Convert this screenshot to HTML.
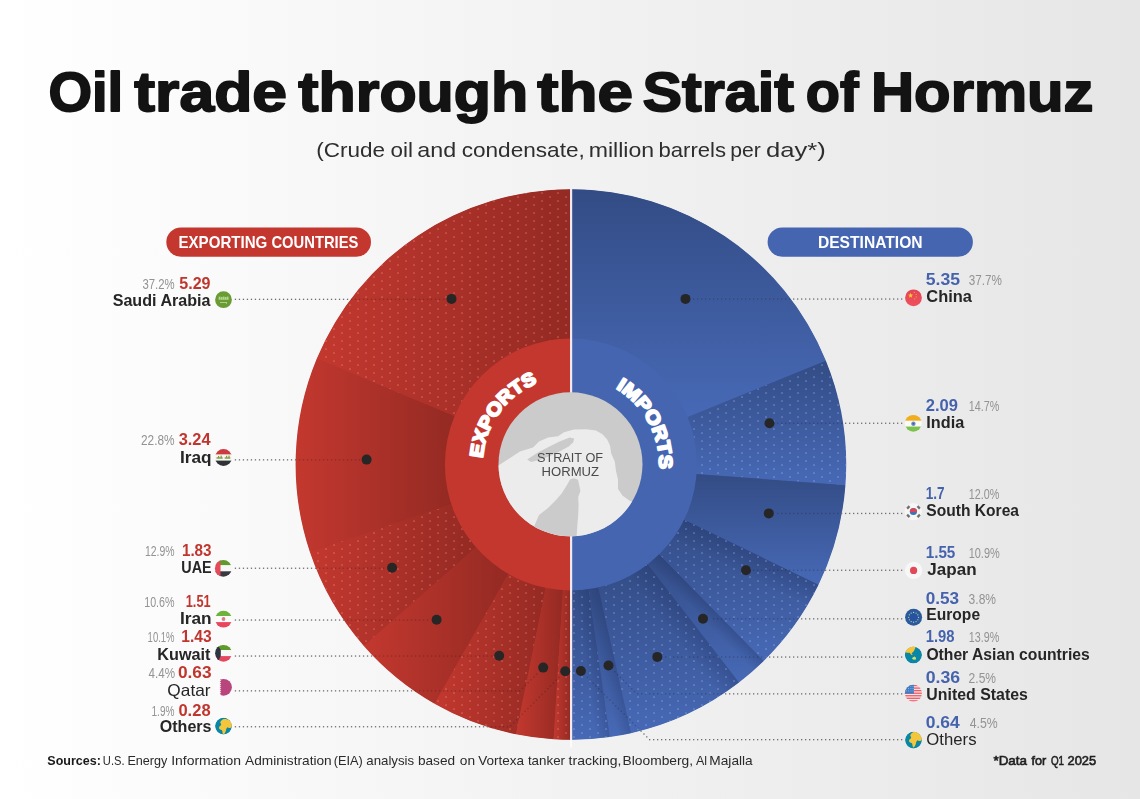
<!DOCTYPE html>
<html><head><meta charset="utf-8"><title>Oil trade through the Strait of Hormuz</title>
<style>
html,body{margin:0;padding:0;background:#f2f2f2;}
body{width:1140px;height:799px;overflow:hidden;font-family:"Liberation Sans",sans-serif;}
svg{display:block;font-family:"Liberation Sans",sans-serif;}
</style></head><body>
<svg width="1140" height="799" viewBox="0 0 1140 799">
<defs>
<linearGradient id="bg" x1="0" y1="0" x2="1" y2="0"><stop offset="0" stop-color="#ffffff"/><stop offset="0.5" stop-color="#f2f2f2"/><stop offset="1" stop-color="#e6e6e6"/></linearGradient>
<pattern id="pr" width="16" height="8" patternUnits="userSpaceOnUse"><rect x="13.2" y="0.3" width="1.6" height="1.5" rx="0.4" fill="#f58c80" fill-opacity="0.5"/><rect x="5.2" y="4.3" width="1.6" height="1.5" rx="0.4" fill="#f58c80" fill-opacity="0.5"/></pattern>
<pattern id="pb" width="16" height="8" patternUnits="userSpaceOnUse"><rect x="13.2" y="0.3" width="1.6" height="1.5" rx="0.4" fill="#9db8f5" fill-opacity="0.5"/><rect x="5.2" y="4.3" width="1.6" height="1.5" rx="0.4" fill="#9db8f5" fill-opacity="0.5"/></pattern>
<linearGradient id="gr0" x1="0" y1="0" x2="1" y2="0"><stop offset="0" stop-color="#c3382f"/><stop offset="1" stop-color="#932a23"/></linearGradient>
<linearGradient id="gr1" x1="0" y1="0" x2="1" y2="0"><stop offset="0" stop-color="#c3382f"/><stop offset="1" stop-color="#932a23"/></linearGradient>
<linearGradient id="gr2" x1="0" y1="0" x2="1" y2="0"><stop offset="0" stop-color="#c3382f"/><stop offset="1" stop-color="#932a23"/></linearGradient>
<linearGradient id="gr3" x1="0" y1="0" x2="1" y2="0"><stop offset="0" stop-color="#c3382f"/><stop offset="1" stop-color="#932a23"/></linearGradient>
<linearGradient id="gr4" x1="0" y1="0" x2="1" y2="0"><stop offset="0" stop-color="#c3382f"/><stop offset="1" stop-color="#932a23"/></linearGradient>
<linearGradient id="gr5" x1="0" y1="0" x2="1" y2="0"><stop offset="0" stop-color="#c3382f"/><stop offset="1" stop-color="#932a23"/></linearGradient>
<linearGradient id="gr6" x1="0" y1="0" x2="1" y2="0"><stop offset="0" stop-color="#c3382f"/><stop offset="1" stop-color="#932a23"/></linearGradient>
<linearGradient id="gbv" x1="0" y1="0" x2="0" y2="1"><stop offset="0" stop-color="#334c85"/><stop offset="1" stop-color="#4769b6"/></linearGradient>
<linearGradient id="gs3" gradientUnits="userSpaceOnUse" x1="570.9" y1="464.5" x2="560.4" y2="486.1"><stop offset="0" stop-color="#1c2c5c" stop-opacity="0.26"/><stop offset="1" stop-color="#1c2c5c" stop-opacity="0"/></linearGradient>
<linearGradient id="gs4" gradientUnits="userSpaceOnUse" x1="570.9" y1="464.5" x2="560.9" y2="474.3"><stop offset="0" stop-color="#1c2c5c" stop-opacity="0.26"/><stop offset="1" stop-color="#1c2c5c" stop-opacity="0"/></linearGradient>
<linearGradient id="gs5" gradientUnits="userSpaceOnUse" x1="570.9" y1="464.5" x2="551.9" y2="479.2"><stop offset="0" stop-color="#1c2c5c" stop-opacity="0.26"/><stop offset="1" stop-color="#1c2c5c" stop-opacity="0"/></linearGradient>
<linearGradient id="gs6" gradientUnits="userSpaceOnUse" x1="570.9" y1="464.5" x2="557.2" y2="467.6"><stop offset="0" stop-color="#1c2c5c" stop-opacity="0.26"/><stop offset="1" stop-color="#1c2c5c" stop-opacity="0"/></linearGradient>
<linearGradient id="gs7" gradientUnits="userSpaceOnUse" x1="570.9" y1="464.5" x2="557.0" y2="466.5"><stop offset="0" stop-color="#1c2c5c" stop-opacity="0.26"/><stop offset="1" stop-color="#1c2c5c" stop-opacity="0"/></linearGradient>
<filter id="nf" color-interpolation-filters="sRGB" filterUnits="userSpaceOnUse" x="0" y="0" width="1140" height="799"><feOffset dx="0" dy="0"/></filter>
<clipPath id="f1"><circle cx="223.5" cy="299.7" r="8.4"/></clipPath>
<clipPath id="f2"><circle cx="223.5" cy="457.5" r="8.4"/></clipPath>
<clipPath id="f3"><circle cx="223.3" cy="568.4" r="8.4"/></clipPath>
<clipPath id="f4"><circle cx="223.5" cy="619.2" r="8.4"/></clipPath>
<clipPath id="f5"><circle cx="223.5" cy="653.3" r="8.4"/></clipPath>
<clipPath id="f6"><circle cx="223.5" cy="687.3" r="8.4"/></clipPath>
<clipPath id="f7"><circle cx="223.5" cy="726.1" r="8.4"/></clipPath>
<clipPath id="f8"><circle cx="913.5" cy="740.1" r="8.4"/></clipPath>
<linearGradient id="gch" x1="0" y1="0" x2="0" y2="1"><stop offset="0" stop-color="#e24652"/><stop offset="1" stop-color="#f0505e"/></linearGradient>
<clipPath id="f9"><circle cx="913.3" cy="423.3" r="8.4"/></clipPath>
<clipPath id="f10"><circle cx="913.3" cy="511.7" r="8.6"/></clipPath>
<clipPath id="f11"><circle cx="913.4" cy="655.0" r="8.6"/></clipPath>
<clipPath id="f12"><circle cx="913.4" cy="693.2" r="8.5"/></clipPath>
</defs>
<rect x="0" y="0" width="1140" height="799" fill="url(#bg)"/>
<path d="M570.90,464.50L570.90,189.60A274.90000000000003,274.90000000000003 0 0 0 570.90,739.40Z" fill="#b0322a"/><path d="M570.90,464.50L570.90,189.60A274.90000000000003,274.90000000000003 0 0 1 570.90,739.40Z" fill="#3f5ca2"/>
<g id="wedges"><path d="M570.90,189.20A275.3,275.3 0 0 0 316.72,358.75L455.49,416.48A125.0,125.0 0 0 1 570.90,339.50Z" fill="url(#gr0)"/><path d="M570.90,189.20A275.3,275.3 0 0 0 316.72,358.75L455.49,416.48A125.0,125.0 0 0 1 570.90,339.50Z" fill="url(#pr)"/><path d="M316.72,358.75A275.3,275.3 0 0 0 309.89,552.04L452.39,504.25A125.0,125.0 0 0 1 455.49,416.48Z" fill="url(#gr1)"/><path d="M309.89,552.04A275.3,275.3 0 0 0 363.82,645.91L476.88,546.87A125.0,125.0 0 0 1 452.39,504.25Z" fill="url(#gr2)"/><path d="M309.89,552.04A275.3,275.3 0 0 0 363.82,645.91L476.88,546.87A125.0,125.0 0 0 1 452.39,504.25Z" fill="url(#pr)"/><path d="M363.82,645.91A275.3,275.3 0 0 0 434.50,703.63L508.97,573.08A125.0,125.0 0 0 1 476.88,546.87Z" fill="url(#gr3)"/><path d="M434.50,703.63A275.3,275.3 0 0 0 515.92,734.25L545.94,586.98A125.0,125.0 0 0 1 508.97,573.08Z" fill="url(#gr4)"/><path d="M434.50,703.63A275.3,275.3 0 0 0 515.92,734.25L545.94,586.98A125.0,125.0 0 0 1 508.97,573.08Z" fill="url(#pr)"/><path d="M515.92,734.25A275.3,275.3 0 0 0 553.61,739.26L563.05,589.25A125.0,125.0 0 0 1 545.94,586.98Z" fill="url(#gr5)"/><path d="M553.61,739.26A275.3,275.3 0 0 0 570.90,739.80L570.90,589.50A125.0,125.0 0 0 1 563.05,589.25Z" fill="url(#gr6)"/><path d="M553.61,739.26A275.3,275.3 0 0 0 570.90,739.80L570.90,589.50A125.0,125.0 0 0 1 563.05,589.25Z" fill="url(#pr)"/><path d="M570.90,189.20A275.3,275.3 0 0 1 825.90,360.75L686.68,417.39A125.0,125.0 0 0 0 570.90,339.50Z" fill="url(#gbv)"/><path d="M825.90,360.75A275.3,275.3 0 0 1 845.42,485.24L695.54,473.92A125.0,125.0 0 0 0 686.68,417.39Z" fill="url(#gbv)"/><path d="M825.90,360.75A275.3,275.3 0 0 1 845.42,485.24L695.54,473.92A125.0,125.0 0 0 0 686.68,417.39Z" fill="url(#pb)"/><path d="M845.42,485.24A275.3,275.3 0 0 1 818.51,584.84L683.33,519.14A125.0,125.0 0 0 0 695.54,473.92Z" fill="url(#gbv)"/><path d="M818.51,584.84A275.3,275.3 0 0 1 763.72,660.99L658.45,553.72A125.0,125.0 0 0 0 683.33,519.14Z" fill="url(#gbv)"/><path d="M818.51,584.84A275.3,275.3 0 0 1 763.72,660.99L658.45,553.72A125.0,125.0 0 0 0 683.33,519.14Z" fill="url(#gs3)"/><path d="M818.51,584.84A275.3,275.3 0 0 1 763.72,660.99L658.45,553.72A125.0,125.0 0 0 0 683.33,519.14Z" fill="url(#pb)"/><path d="M763.72,660.99A275.3,275.3 0 0 1 738.95,682.56L647.20,563.51A125.0,125.0 0 0 0 658.45,553.72Z" fill="url(#gbv)"/><path d="M763.72,660.99A275.3,275.3 0 0 1 738.95,682.56L647.20,563.51A125.0,125.0 0 0 0 658.45,553.72Z" fill="url(#gs4)"/><path d="M738.95,682.56A275.3,275.3 0 0 1 630.95,733.17L598.17,586.49A125.0,125.0 0 0 0 647.20,563.51Z" fill="url(#gbv)"/><path d="M738.95,682.56A275.3,275.3 0 0 1 630.95,733.17L598.17,586.49A125.0,125.0 0 0 0 647.20,563.51Z" fill="url(#gs5)"/><path d="M738.95,682.56A275.3,275.3 0 0 1 630.95,733.17L598.17,586.49A125.0,125.0 0 0 0 647.20,563.51Z" fill="url(#pb)"/><path d="M630.95,733.17A275.3,275.3 0 0 1 609.69,737.05L588.51,588.25A125.0,125.0 0 0 0 598.17,586.49Z" fill="url(#gbv)"/><path d="M630.95,733.17A275.3,275.3 0 0 1 609.69,737.05L588.51,588.25A125.0,125.0 0 0 0 598.17,586.49Z" fill="url(#gs6)"/><path d="M609.69,737.05A275.3,275.3 0 0 1 570.90,739.80L570.90,589.50A125.0,125.0 0 0 0 588.51,588.25Z" fill="url(#gbv)"/><path d="M609.69,737.05A275.3,275.3 0 0 1 570.90,739.80L570.90,589.50A125.0,125.0 0 0 0 588.51,588.25Z" fill="url(#gs7)"/><path d="M609.69,737.05A275.3,275.3 0 0 1 570.90,739.80L570.90,589.50A125.0,125.0 0 0 0 588.51,588.25Z" fill="url(#pb)"/></g>
<path d="M570.90,464.50L570.90,338.50A126.0,126.0 0 0 0 570.90,590.50Z" fill="#c4372f"/>
<path d="M570.90,464.50L570.90,338.50A126.0,126.0 0 0 1 570.90,590.50Z" fill="#4565b1"/>
<rect x="570" y="189" width="2.2" height="551" fill="#f3e9ef"/><rect x="570" y="740" width="2.2" height="7.5" fill="#fbfbfb"/>
<clipPath id="cc"><circle cx="570.5" cy="464.3" r="72"/></clipPath>
<circle cx="570.5" cy="464.3" r="72" fill="#cbcbcb"/>
<g clip-path="url(#cc)">
<polygon points="496.0,467.0 510.0,458.0 520.0,451.4 533.0,447.4 539.0,441.4 548.0,437.6 558.0,436.2 564.0,432.2 574.0,429.6 586.0,429.2 596.0,430.6 602.4,434.2 607.2,439.4 610.0,445.4 611.2,453.4 614.8,461.4 616.0,471.0 618.0,479.4 618.0,489.0 622.4,495.4 630.0,501.0 642.0,503.0 648.0,525.0 570.0,543.0 494.0,525.0" fill="#ececec"/>
<polygon points="533.0,529.0 539.0,515.0 548.0,508.0 556.0,500.0 562.0,493.0 567.0,485.0 570.0,479.4 574.0,478.2 578.0,479.8 579.2,485.0 580.4,491.0 578.2,497.0 578.6,505.0 578.2,515.0 577.4,525.0 576.4,539.0 550.0,541.0" fill="#cbcbcb"/>
<polygon points="527.2,459.4 537.0,453.0 548.0,447.2 559.0,441.8 569.6,437.6 574.2,438.6 573.2,442.2 569.0,446.2 561.0,450.8 551.0,455.6 541.0,459.6 531.0,462.0" fill="#cbcbcb"/>
</g>
<g filter="url(#nf)">
<text x="536.98" y="462" font-size="13" fill="#4a4a4a" textLength="66.04" lengthAdjust="spacingAndGlyphs">STRAIT OF</text>
<text x="541.56" y="475.6" font-size="13" fill="#4a4a4a" textLength="57.49" lengthAdjust="spacingAndGlyphs">HORMUZ</text>
</g>
<path id="pe" d="M482.82,458.34A88.3,88.3 0 0 1 537.39,382.80" fill="none"/>
<path id="pi" d="M615.72,388.42A88.3,88.3 0 0 1 659.08,469.12" fill="none"/>
<text font-size="18.6" font-weight="bold" fill="#fff" stroke="#fff" stroke-width="1.9" stroke-linejoin="round" textLength="98.2" lengthAdjust="spacingAndGlyphs"><textPath href="#pe" textLength="98.2" lengthAdjust="spacingAndGlyphs">EXPORTS</textPath></text>
<text font-size="18.6" font-weight="bold" fill="#fff" stroke="#fff" stroke-width="1.9" stroke-linejoin="round" textLength="96.3" lengthAdjust="spacingAndGlyphs"><textPath href="#pi" textLength="96.3" lengthAdjust="spacingAndGlyphs">IMPORTS</textPath></text>
<g fill="#6e6e6e"><rect x="234.8" y="298.7" width="1.3" height="1.3"/><rect x="238.8" y="298.7" width="1.3" height="1.3"/><rect x="242.8" y="298.7" width="1.3" height="1.3"/><rect x="246.8" y="298.7" width="1.3" height="1.3"/><rect x="250.8" y="298.7" width="1.3" height="1.3"/><rect x="254.8" y="298.7" width="1.3" height="1.3"/><rect x="258.9" y="298.7" width="1.3" height="1.3"/><rect x="262.9" y="298.7" width="1.3" height="1.3"/><rect x="266.9" y="298.7" width="1.3" height="1.3"/><rect x="270.9" y="298.7" width="1.3" height="1.3"/><rect x="274.9" y="298.7" width="1.3" height="1.3"/><rect x="278.9" y="298.7" width="1.3" height="1.3"/><rect x="282.9" y="298.7" width="1.3" height="1.3"/><rect x="286.9" y="298.7" width="1.3" height="1.3"/><rect x="290.9" y="298.7" width="1.3" height="1.3"/><rect x="294.9" y="298.7" width="1.3" height="1.3"/><rect x="298.9" y="298.7" width="1.3" height="1.3"/><rect x="302.9" y="298.7" width="1.3" height="1.3"/><rect x="306.9" y="298.7" width="1.3" height="1.3"/><rect x="310.9" y="298.7" width="1.3" height="1.3"/><rect x="314.9" y="298.7" width="1.3" height="1.3"/><rect x="318.9" y="298.7" width="1.3" height="1.3"/><rect x="322.9" y="298.7" width="1.3" height="1.3"/><rect x="326.9" y="298.7" width="1.3" height="1.3"/><rect x="330.9" y="298.7" width="1.3" height="1.3"/><rect x="334.9" y="298.7" width="1.3" height="1.3"/><rect x="338.9" y="298.7" width="1.3" height="1.3"/><rect x="342.9" y="298.7" width="1.3" height="1.3"/><rect x="346.9" y="298.7" width="1.3" height="1.3"/><rect x="234.8" y="459.2" width="1.3" height="1.3"/><rect x="238.8" y="459.2" width="1.3" height="1.3"/><rect x="242.8" y="459.2" width="1.3" height="1.3"/><rect x="246.8" y="459.2" width="1.3" height="1.3"/><rect x="250.8" y="459.2" width="1.3" height="1.3"/><rect x="254.8" y="459.2" width="1.3" height="1.3"/><rect x="258.9" y="459.2" width="1.3" height="1.3"/><rect x="262.9" y="459.2" width="1.3" height="1.3"/><rect x="266.9" y="459.2" width="1.3" height="1.3"/><rect x="270.9" y="459.2" width="1.3" height="1.3"/><rect x="274.9" y="459.2" width="1.3" height="1.3"/><rect x="278.9" y="459.2" width="1.3" height="1.3"/><rect x="282.9" y="459.2" width="1.3" height="1.3"/><rect x="286.9" y="459.2" width="1.3" height="1.3"/><rect x="290.9" y="459.2" width="1.3" height="1.3"/><rect x="294.9" y="459.2" width="1.3" height="1.3"/><rect x="234.8" y="567.6" width="1.3" height="1.3"/><rect x="238.8" y="567.6" width="1.3" height="1.3"/><rect x="242.8" y="567.6" width="1.3" height="1.3"/><rect x="246.8" y="567.6" width="1.3" height="1.3"/><rect x="250.8" y="567.6" width="1.3" height="1.3"/><rect x="254.8" y="567.6" width="1.3" height="1.3"/><rect x="258.9" y="567.6" width="1.3" height="1.3"/><rect x="262.9" y="567.6" width="1.3" height="1.3"/><rect x="266.9" y="567.6" width="1.3" height="1.3"/><rect x="270.9" y="567.6" width="1.3" height="1.3"/><rect x="274.9" y="567.6" width="1.3" height="1.3"/><rect x="278.9" y="567.6" width="1.3" height="1.3"/><rect x="282.9" y="567.6" width="1.3" height="1.3"/><rect x="286.9" y="567.6" width="1.3" height="1.3"/><rect x="290.9" y="567.6" width="1.3" height="1.3"/><rect x="294.9" y="567.6" width="1.3" height="1.3"/><rect x="298.9" y="567.6" width="1.3" height="1.3"/><rect x="302.9" y="567.6" width="1.3" height="1.3"/><rect x="306.9" y="567.6" width="1.3" height="1.3"/><rect x="310.9" y="567.6" width="1.3" height="1.3"/><rect x="314.9" y="567.6" width="1.3" height="1.3"/><rect x="234.8" y="619.4" width="1.3" height="1.3"/><rect x="238.8" y="619.4" width="1.3" height="1.3"/><rect x="242.8" y="619.4" width="1.3" height="1.3"/><rect x="246.8" y="619.4" width="1.3" height="1.3"/><rect x="250.8" y="619.4" width="1.3" height="1.3"/><rect x="254.8" y="619.4" width="1.3" height="1.3"/><rect x="258.9" y="619.4" width="1.3" height="1.3"/><rect x="262.9" y="619.4" width="1.3" height="1.3"/><rect x="266.9" y="619.4" width="1.3" height="1.3"/><rect x="270.9" y="619.4" width="1.3" height="1.3"/><rect x="274.9" y="619.4" width="1.3" height="1.3"/><rect x="278.9" y="619.4" width="1.3" height="1.3"/><rect x="282.9" y="619.4" width="1.3" height="1.3"/><rect x="286.9" y="619.4" width="1.3" height="1.3"/><rect x="290.9" y="619.4" width="1.3" height="1.3"/><rect x="294.9" y="619.4" width="1.3" height="1.3"/><rect x="298.9" y="619.4" width="1.3" height="1.3"/><rect x="302.9" y="619.4" width="1.3" height="1.3"/><rect x="306.9" y="619.4" width="1.3" height="1.3"/><rect x="310.9" y="619.4" width="1.3" height="1.3"/><rect x="314.9" y="619.4" width="1.3" height="1.3"/><rect x="318.9" y="619.4" width="1.3" height="1.3"/><rect x="322.9" y="619.4" width="1.3" height="1.3"/><rect x="326.9" y="619.4" width="1.3" height="1.3"/><rect x="330.9" y="619.4" width="1.3" height="1.3"/><rect x="334.9" y="619.4" width="1.3" height="1.3"/><rect x="338.9" y="619.4" width="1.3" height="1.3"/><rect x="342.9" y="619.4" width="1.3" height="1.3"/><rect x="234.8" y="655.4" width="1.3" height="1.3"/><rect x="238.8" y="655.4" width="1.3" height="1.3"/><rect x="242.8" y="655.4" width="1.3" height="1.3"/><rect x="246.8" y="655.4" width="1.3" height="1.3"/><rect x="250.8" y="655.4" width="1.3" height="1.3"/><rect x="254.8" y="655.4" width="1.3" height="1.3"/><rect x="258.9" y="655.4" width="1.3" height="1.3"/><rect x="262.9" y="655.4" width="1.3" height="1.3"/><rect x="266.9" y="655.4" width="1.3" height="1.3"/><rect x="270.9" y="655.4" width="1.3" height="1.3"/><rect x="274.9" y="655.4" width="1.3" height="1.3"/><rect x="278.9" y="655.4" width="1.3" height="1.3"/><rect x="282.9" y="655.4" width="1.3" height="1.3"/><rect x="286.9" y="655.4" width="1.3" height="1.3"/><rect x="290.9" y="655.4" width="1.3" height="1.3"/><rect x="294.9" y="655.4" width="1.3" height="1.3"/><rect x="298.9" y="655.4" width="1.3" height="1.3"/><rect x="302.9" y="655.4" width="1.3" height="1.3"/><rect x="306.9" y="655.4" width="1.3" height="1.3"/><rect x="310.9" y="655.4" width="1.3" height="1.3"/><rect x="314.9" y="655.4" width="1.3" height="1.3"/><rect x="318.9" y="655.4" width="1.3" height="1.3"/><rect x="322.9" y="655.4" width="1.3" height="1.3"/><rect x="326.9" y="655.4" width="1.3" height="1.3"/><rect x="330.9" y="655.4" width="1.3" height="1.3"/><rect x="334.9" y="655.4" width="1.3" height="1.3"/><rect x="338.9" y="655.4" width="1.3" height="1.3"/><rect x="342.9" y="655.4" width="1.3" height="1.3"/><rect x="346.9" y="655.4" width="1.3" height="1.3"/><rect x="350.9" y="655.4" width="1.3" height="1.3"/><rect x="354.9" y="655.4" width="1.3" height="1.3"/><rect x="358.9" y="655.4" width="1.3" height="1.3"/><rect x="362.9" y="655.4" width="1.3" height="1.3"/><rect x="366.9" y="655.4" width="1.3" height="1.3"/><rect x="370.9" y="655.4" width="1.3" height="1.3"/><rect x="234.8" y="690.2" width="1.3" height="1.3"/><rect x="238.8" y="690.2" width="1.3" height="1.3"/><rect x="242.8" y="690.2" width="1.3" height="1.3"/><rect x="246.8" y="690.2" width="1.3" height="1.3"/><rect x="250.8" y="690.2" width="1.3" height="1.3"/><rect x="254.8" y="690.2" width="1.3" height="1.3"/><rect x="258.9" y="690.2" width="1.3" height="1.3"/><rect x="262.9" y="690.2" width="1.3" height="1.3"/><rect x="266.9" y="690.2" width="1.3" height="1.3"/><rect x="270.9" y="690.2" width="1.3" height="1.3"/><rect x="274.9" y="690.2" width="1.3" height="1.3"/><rect x="278.9" y="690.2" width="1.3" height="1.3"/><rect x="282.9" y="690.2" width="1.3" height="1.3"/><rect x="286.9" y="690.2" width="1.3" height="1.3"/><rect x="290.9" y="690.2" width="1.3" height="1.3"/><rect x="294.9" y="690.2" width="1.3" height="1.3"/><rect x="298.9" y="690.2" width="1.3" height="1.3"/><rect x="302.9" y="690.2" width="1.3" height="1.3"/><rect x="306.9" y="690.2" width="1.3" height="1.3"/><rect x="310.9" y="690.2" width="1.3" height="1.3"/><rect x="314.9" y="690.2" width="1.3" height="1.3"/><rect x="318.9" y="690.2" width="1.3" height="1.3"/><rect x="322.9" y="690.2" width="1.3" height="1.3"/><rect x="326.9" y="690.2" width="1.3" height="1.3"/><rect x="330.9" y="690.2" width="1.3" height="1.3"/><rect x="334.9" y="690.2" width="1.3" height="1.3"/><rect x="338.9" y="690.2" width="1.3" height="1.3"/><rect x="342.9" y="690.2" width="1.3" height="1.3"/><rect x="346.9" y="690.2" width="1.3" height="1.3"/><rect x="350.9" y="690.2" width="1.3" height="1.3"/><rect x="354.9" y="690.2" width="1.3" height="1.3"/><rect x="358.9" y="690.2" width="1.3" height="1.3"/><rect x="362.9" y="690.2" width="1.3" height="1.3"/><rect x="366.9" y="690.2" width="1.3" height="1.3"/><rect x="370.9" y="690.2" width="1.3" height="1.3"/><rect x="374.9" y="690.2" width="1.3" height="1.3"/><rect x="378.9" y="690.2" width="1.3" height="1.3"/><rect x="382.9" y="690.2" width="1.3" height="1.3"/><rect x="386.9" y="690.2" width="1.3" height="1.3"/><rect x="390.9" y="690.2" width="1.3" height="1.3"/><rect x="394.9" y="690.2" width="1.3" height="1.3"/><rect x="398.9" y="690.2" width="1.3" height="1.3"/><rect x="402.9" y="690.2" width="1.3" height="1.3"/><rect x="406.9" y="690.2" width="1.3" height="1.3"/><rect x="410.9" y="690.2" width="1.3" height="1.3"/><rect x="234.8" y="726.1" width="1.3" height="1.3"/><rect x="238.8" y="726.1" width="1.3" height="1.3"/><rect x="242.8" y="726.1" width="1.3" height="1.3"/><rect x="246.8" y="726.1" width="1.3" height="1.3"/><rect x="250.8" y="726.1" width="1.3" height="1.3"/><rect x="254.8" y="726.1" width="1.3" height="1.3"/><rect x="258.9" y="726.1" width="1.3" height="1.3"/><rect x="262.9" y="726.1" width="1.3" height="1.3"/><rect x="266.9" y="726.1" width="1.3" height="1.3"/><rect x="270.9" y="726.1" width="1.3" height="1.3"/><rect x="274.9" y="726.1" width="1.3" height="1.3"/><rect x="278.9" y="726.1" width="1.3" height="1.3"/><rect x="282.9" y="726.1" width="1.3" height="1.3"/><rect x="286.9" y="726.1" width="1.3" height="1.3"/><rect x="290.9" y="726.1" width="1.3" height="1.3"/><rect x="294.9" y="726.1" width="1.3" height="1.3"/><rect x="298.9" y="726.1" width="1.3" height="1.3"/><rect x="302.9" y="726.1" width="1.3" height="1.3"/><rect x="306.9" y="726.1" width="1.3" height="1.3"/><rect x="310.9" y="726.1" width="1.3" height="1.3"/><rect x="314.9" y="726.1" width="1.3" height="1.3"/><rect x="318.9" y="726.1" width="1.3" height="1.3"/><rect x="322.9" y="726.1" width="1.3" height="1.3"/><rect x="326.9" y="726.1" width="1.3" height="1.3"/><rect x="330.9" y="726.1" width="1.3" height="1.3"/><rect x="334.9" y="726.1" width="1.3" height="1.3"/><rect x="338.9" y="726.1" width="1.3" height="1.3"/><rect x="342.9" y="726.1" width="1.3" height="1.3"/><rect x="346.9" y="726.1" width="1.3" height="1.3"/><rect x="350.9" y="726.1" width="1.3" height="1.3"/><rect x="354.9" y="726.1" width="1.3" height="1.3"/><rect x="358.9" y="726.1" width="1.3" height="1.3"/><rect x="362.9" y="726.1" width="1.3" height="1.3"/><rect x="366.9" y="726.1" width="1.3" height="1.3"/><rect x="370.9" y="726.1" width="1.3" height="1.3"/><rect x="374.9" y="726.1" width="1.3" height="1.3"/><rect x="378.9" y="726.1" width="1.3" height="1.3"/><rect x="382.9" y="726.1" width="1.3" height="1.3"/><rect x="386.9" y="726.1" width="1.3" height="1.3"/><rect x="390.9" y="726.1" width="1.3" height="1.3"/><rect x="394.9" y="726.1" width="1.3" height="1.3"/><rect x="398.9" y="726.1" width="1.3" height="1.3"/><rect x="402.9" y="726.1" width="1.3" height="1.3"/><rect x="406.9" y="726.1" width="1.3" height="1.3"/><rect x="410.9" y="726.1" width="1.3" height="1.3"/><rect x="414.9" y="726.1" width="1.3" height="1.3"/><rect x="418.9" y="726.1" width="1.3" height="1.3"/><rect x="422.9" y="726.1" width="1.3" height="1.3"/><rect x="426.9" y="726.1" width="1.3" height="1.3"/><rect x="430.9" y="726.1" width="1.3" height="1.3"/><rect x="434.9" y="726.1" width="1.3" height="1.3"/><rect x="438.9" y="726.1" width="1.3" height="1.3"/><rect x="442.9" y="726.1" width="1.3" height="1.3"/><rect x="446.9" y="726.1" width="1.3" height="1.3"/><rect x="450.9" y="726.1" width="1.3" height="1.3"/><rect x="454.9" y="726.1" width="1.3" height="1.3"/><rect x="458.9" y="726.1" width="1.3" height="1.3"/><rect x="462.9" y="726.1" width="1.3" height="1.3"/><rect x="466.9" y="726.1" width="1.3" height="1.3"/><rect x="470.9" y="726.1" width="1.3" height="1.3"/><rect x="474.9" y="726.1" width="1.3" height="1.3"/><rect x="478.9" y="726.1" width="1.3" height="1.3"/><rect x="482.9" y="726.1" width="1.3" height="1.3"/><rect x="486.9" y="726.1" width="1.3" height="1.3"/><rect x="901.0" y="298.4" width="1.3" height="1.3"/><rect x="897.0" y="298.4" width="1.3" height="1.3"/><rect x="893.0" y="298.4" width="1.3" height="1.3"/><rect x="889.0" y="298.4" width="1.3" height="1.3"/><rect x="885.0" y="298.4" width="1.3" height="1.3"/><rect x="881.0" y="298.4" width="1.3" height="1.3"/><rect x="877.0" y="298.4" width="1.3" height="1.3"/><rect x="873.0" y="298.4" width="1.3" height="1.3"/><rect x="869.0" y="298.4" width="1.3" height="1.3"/><rect x="865.0" y="298.4" width="1.3" height="1.3"/><rect x="861.0" y="298.4" width="1.3" height="1.3"/><rect x="857.0" y="298.4" width="1.3" height="1.3"/><rect x="853.0" y="298.4" width="1.3" height="1.3"/><rect x="849.0" y="298.4" width="1.3" height="1.3"/><rect x="845.0" y="298.4" width="1.3" height="1.3"/><rect x="841.0" y="298.4" width="1.3" height="1.3"/><rect x="837.0" y="298.4" width="1.3" height="1.3"/><rect x="833.0" y="298.4" width="1.3" height="1.3"/><rect x="829.0" y="298.4" width="1.3" height="1.3"/><rect x="825.0" y="298.4" width="1.3" height="1.3"/><rect x="821.0" y="298.4" width="1.3" height="1.3"/><rect x="817.0" y="298.4" width="1.3" height="1.3"/><rect x="813.0" y="298.4" width="1.3" height="1.3"/><rect x="809.0" y="298.4" width="1.3" height="1.3"/><rect x="805.0" y="298.4" width="1.3" height="1.3"/><rect x="801.0" y="298.4" width="1.3" height="1.3"/><rect x="797.0" y="298.4" width="1.3" height="1.3"/><rect x="793.0" y="298.4" width="1.3" height="1.3"/><rect x="901.0" y="422.6" width="1.3" height="1.3"/><rect x="897.0" y="422.6" width="1.3" height="1.3"/><rect x="893.0" y="422.6" width="1.3" height="1.3"/><rect x="889.0" y="422.6" width="1.3" height="1.3"/><rect x="885.0" y="422.6" width="1.3" height="1.3"/><rect x="881.0" y="422.6" width="1.3" height="1.3"/><rect x="877.0" y="422.6" width="1.3" height="1.3"/><rect x="873.0" y="422.6" width="1.3" height="1.3"/><rect x="869.0" y="422.6" width="1.3" height="1.3"/><rect x="865.0" y="422.6" width="1.3" height="1.3"/><rect x="861.0" y="422.6" width="1.3" height="1.3"/><rect x="857.0" y="422.6" width="1.3" height="1.3"/><rect x="853.0" y="422.6" width="1.3" height="1.3"/><rect x="849.0" y="422.6" width="1.3" height="1.3"/><rect x="845.0" y="422.6" width="1.3" height="1.3"/><rect x="901.0" y="512.8" width="1.3" height="1.3"/><rect x="897.0" y="512.8" width="1.3" height="1.3"/><rect x="893.0" y="512.8" width="1.3" height="1.3"/><rect x="889.0" y="512.8" width="1.3" height="1.3"/><rect x="885.0" y="512.8" width="1.3" height="1.3"/><rect x="881.0" y="512.8" width="1.3" height="1.3"/><rect x="877.0" y="512.8" width="1.3" height="1.3"/><rect x="873.0" y="512.8" width="1.3" height="1.3"/><rect x="869.0" y="512.8" width="1.3" height="1.3"/><rect x="865.0" y="512.8" width="1.3" height="1.3"/><rect x="861.0" y="512.8" width="1.3" height="1.3"/><rect x="857.0" y="512.8" width="1.3" height="1.3"/><rect x="853.0" y="512.8" width="1.3" height="1.3"/><rect x="849.0" y="512.8" width="1.3" height="1.3"/><rect x="845.0" y="512.8" width="1.3" height="1.3"/><rect x="841.0" y="512.8" width="1.3" height="1.3"/><rect x="901.0" y="569.6" width="1.3" height="1.3"/><rect x="897.0" y="569.6" width="1.3" height="1.3"/><rect x="893.0" y="569.6" width="1.3" height="1.3"/><rect x="889.0" y="569.6" width="1.3" height="1.3"/><rect x="885.0" y="569.6" width="1.3" height="1.3"/><rect x="881.0" y="569.6" width="1.3" height="1.3"/><rect x="877.0" y="569.6" width="1.3" height="1.3"/><rect x="873.0" y="569.6" width="1.3" height="1.3"/><rect x="869.0" y="569.6" width="1.3" height="1.3"/><rect x="865.0" y="569.6" width="1.3" height="1.3"/><rect x="861.0" y="569.6" width="1.3" height="1.3"/><rect x="857.0" y="569.6" width="1.3" height="1.3"/><rect x="853.0" y="569.6" width="1.3" height="1.3"/><rect x="849.0" y="569.6" width="1.3" height="1.3"/><rect x="845.0" y="569.6" width="1.3" height="1.3"/><rect x="841.0" y="569.6" width="1.3" height="1.3"/><rect x="837.0" y="569.6" width="1.3" height="1.3"/><rect x="833.0" y="569.6" width="1.3" height="1.3"/><rect x="829.0" y="569.6" width="1.3" height="1.3"/><rect x="825.0" y="569.6" width="1.3" height="1.3"/><rect x="901.0" y="618.2" width="1.3" height="1.3"/><rect x="897.0" y="618.2" width="1.3" height="1.3"/><rect x="893.0" y="618.2" width="1.3" height="1.3"/><rect x="889.0" y="618.2" width="1.3" height="1.3"/><rect x="885.0" y="618.2" width="1.3" height="1.3"/><rect x="881.0" y="618.2" width="1.3" height="1.3"/><rect x="877.0" y="618.2" width="1.3" height="1.3"/><rect x="873.0" y="618.2" width="1.3" height="1.3"/><rect x="869.0" y="618.2" width="1.3" height="1.3"/><rect x="865.0" y="618.2" width="1.3" height="1.3"/><rect x="861.0" y="618.2" width="1.3" height="1.3"/><rect x="857.0" y="618.2" width="1.3" height="1.3"/><rect x="853.0" y="618.2" width="1.3" height="1.3"/><rect x="849.0" y="618.2" width="1.3" height="1.3"/><rect x="845.0" y="618.2" width="1.3" height="1.3"/><rect x="841.0" y="618.2" width="1.3" height="1.3"/><rect x="837.0" y="618.2" width="1.3" height="1.3"/><rect x="833.0" y="618.2" width="1.3" height="1.3"/><rect x="829.0" y="618.2" width="1.3" height="1.3"/><rect x="825.0" y="618.2" width="1.3" height="1.3"/><rect x="821.0" y="618.2" width="1.3" height="1.3"/><rect x="817.0" y="618.2" width="1.3" height="1.3"/><rect x="813.0" y="618.2" width="1.3" height="1.3"/><rect x="809.0" y="618.2" width="1.3" height="1.3"/><rect x="805.0" y="618.2" width="1.3" height="1.3"/><rect x="801.0" y="618.2" width="1.3" height="1.3"/><rect x="901.0" y="656.4" width="1.3" height="1.3"/><rect x="897.0" y="656.4" width="1.3" height="1.3"/><rect x="893.0" y="656.4" width="1.3" height="1.3"/><rect x="889.0" y="656.4" width="1.3" height="1.3"/><rect x="885.0" y="656.4" width="1.3" height="1.3"/><rect x="881.0" y="656.4" width="1.3" height="1.3"/><rect x="877.0" y="656.4" width="1.3" height="1.3"/><rect x="873.0" y="656.4" width="1.3" height="1.3"/><rect x="869.0" y="656.4" width="1.3" height="1.3"/><rect x="865.0" y="656.4" width="1.3" height="1.3"/><rect x="861.0" y="656.4" width="1.3" height="1.3"/><rect x="857.0" y="656.4" width="1.3" height="1.3"/><rect x="853.0" y="656.4" width="1.3" height="1.3"/><rect x="849.0" y="656.4" width="1.3" height="1.3"/><rect x="845.0" y="656.4" width="1.3" height="1.3"/><rect x="841.0" y="656.4" width="1.3" height="1.3"/><rect x="837.0" y="656.4" width="1.3" height="1.3"/><rect x="833.0" y="656.4" width="1.3" height="1.3"/><rect x="829.0" y="656.4" width="1.3" height="1.3"/><rect x="825.0" y="656.4" width="1.3" height="1.3"/><rect x="821.0" y="656.4" width="1.3" height="1.3"/><rect x="817.0" y="656.4" width="1.3" height="1.3"/><rect x="813.0" y="656.4" width="1.3" height="1.3"/><rect x="809.0" y="656.4" width="1.3" height="1.3"/><rect x="805.0" y="656.4" width="1.3" height="1.3"/><rect x="801.0" y="656.4" width="1.3" height="1.3"/><rect x="797.0" y="656.4" width="1.3" height="1.3"/><rect x="793.0" y="656.4" width="1.3" height="1.3"/><rect x="789.0" y="656.4" width="1.3" height="1.3"/><rect x="785.0" y="656.4" width="1.3" height="1.3"/><rect x="781.0" y="656.4" width="1.3" height="1.3"/><rect x="777.0" y="656.4" width="1.3" height="1.3"/><rect x="773.0" y="656.4" width="1.3" height="1.3"/><rect x="769.0" y="656.4" width="1.3" height="1.3"/><rect x="901.0" y="693.2" width="1.3" height="1.3"/><rect x="897.0" y="693.2" width="1.3" height="1.3"/><rect x="893.0" y="693.2" width="1.3" height="1.3"/><rect x="889.0" y="693.2" width="1.3" height="1.3"/><rect x="885.0" y="693.2" width="1.3" height="1.3"/><rect x="881.0" y="693.2" width="1.3" height="1.3"/><rect x="877.0" y="693.2" width="1.3" height="1.3"/><rect x="873.0" y="693.2" width="1.3" height="1.3"/><rect x="869.0" y="693.2" width="1.3" height="1.3"/><rect x="865.0" y="693.2" width="1.3" height="1.3"/><rect x="861.0" y="693.2" width="1.3" height="1.3"/><rect x="857.0" y="693.2" width="1.3" height="1.3"/><rect x="853.0" y="693.2" width="1.3" height="1.3"/><rect x="849.0" y="693.2" width="1.3" height="1.3"/><rect x="845.0" y="693.2" width="1.3" height="1.3"/><rect x="841.0" y="693.2" width="1.3" height="1.3"/><rect x="837.0" y="693.2" width="1.3" height="1.3"/><rect x="833.0" y="693.2" width="1.3" height="1.3"/><rect x="829.0" y="693.2" width="1.3" height="1.3"/><rect x="825.0" y="693.2" width="1.3" height="1.3"/><rect x="821.0" y="693.2" width="1.3" height="1.3"/><rect x="817.0" y="693.2" width="1.3" height="1.3"/><rect x="813.0" y="693.2" width="1.3" height="1.3"/><rect x="809.0" y="693.2" width="1.3" height="1.3"/><rect x="805.0" y="693.2" width="1.3" height="1.3"/><rect x="801.0" y="693.2" width="1.3" height="1.3"/><rect x="797.0" y="693.2" width="1.3" height="1.3"/><rect x="793.0" y="693.2" width="1.3" height="1.3"/><rect x="789.0" y="693.2" width="1.3" height="1.3"/><rect x="785.0" y="693.2" width="1.3" height="1.3"/><rect x="781.0" y="693.2" width="1.3" height="1.3"/><rect x="777.0" y="693.2" width="1.3" height="1.3"/><rect x="773.0" y="693.2" width="1.3" height="1.3"/><rect x="769.0" y="693.2" width="1.3" height="1.3"/><rect x="765.0" y="693.2" width="1.3" height="1.3"/><rect x="761.0" y="693.2" width="1.3" height="1.3"/><rect x="757.0" y="693.2" width="1.3" height="1.3"/><rect x="753.0" y="693.2" width="1.3" height="1.3"/><rect x="749.0" y="693.2" width="1.3" height="1.3"/><rect x="745.0" y="693.2" width="1.3" height="1.3"/><rect x="741.0" y="693.2" width="1.3" height="1.3"/><rect x="737.0" y="693.2" width="1.3" height="1.3"/><rect x="733.0" y="693.2" width="1.3" height="1.3"/><rect x="729.0" y="693.2" width="1.3" height="1.3"/><rect x="725.0" y="693.2" width="1.3" height="1.3"/><rect x="901.0" y="739.0" width="1.3" height="1.3"/><rect x="897.0" y="739.0" width="1.3" height="1.3"/><rect x="893.0" y="739.0" width="1.3" height="1.3"/><rect x="889.0" y="739.0" width="1.3" height="1.3"/><rect x="885.0" y="739.0" width="1.3" height="1.3"/><rect x="881.0" y="739.0" width="1.3" height="1.3"/><rect x="877.0" y="739.0" width="1.3" height="1.3"/><rect x="873.0" y="739.0" width="1.3" height="1.3"/><rect x="869.0" y="739.0" width="1.3" height="1.3"/><rect x="865.0" y="739.0" width="1.3" height="1.3"/><rect x="861.0" y="739.0" width="1.3" height="1.3"/><rect x="857.0" y="739.0" width="1.3" height="1.3"/><rect x="853.0" y="739.0" width="1.3" height="1.3"/><rect x="849.0" y="739.0" width="1.3" height="1.3"/><rect x="845.0" y="739.0" width="1.3" height="1.3"/><rect x="841.0" y="739.0" width="1.3" height="1.3"/><rect x="837.0" y="739.0" width="1.3" height="1.3"/><rect x="833.0" y="739.0" width="1.3" height="1.3"/><rect x="829.0" y="739.0" width="1.3" height="1.3"/><rect x="825.0" y="739.0" width="1.3" height="1.3"/><rect x="821.0" y="739.0" width="1.3" height="1.3"/><rect x="817.0" y="739.0" width="1.3" height="1.3"/><rect x="813.0" y="739.0" width="1.3" height="1.3"/><rect x="809.0" y="739.0" width="1.3" height="1.3"/><rect x="805.0" y="739.0" width="1.3" height="1.3"/><rect x="801.0" y="739.0" width="1.3" height="1.3"/><rect x="797.0" y="739.0" width="1.3" height="1.3"/><rect x="793.0" y="739.0" width="1.3" height="1.3"/><rect x="789.0" y="739.0" width="1.3" height="1.3"/><rect x="785.0" y="739.0" width="1.3" height="1.3"/><rect x="781.0" y="739.0" width="1.3" height="1.3"/><rect x="777.0" y="739.0" width="1.3" height="1.3"/><rect x="773.0" y="739.0" width="1.3" height="1.3"/><rect x="769.0" y="739.0" width="1.3" height="1.3"/><rect x="765.0" y="739.0" width="1.3" height="1.3"/><rect x="761.0" y="739.0" width="1.3" height="1.3"/><rect x="757.0" y="739.0" width="1.3" height="1.3"/><rect x="753.0" y="739.0" width="1.3" height="1.3"/><rect x="749.0" y="739.0" width="1.3" height="1.3"/><rect x="745.0" y="739.0" width="1.3" height="1.3"/><rect x="741.0" y="739.0" width="1.3" height="1.3"/><rect x="737.0" y="739.0" width="1.3" height="1.3"/><rect x="733.0" y="739.0" width="1.3" height="1.3"/><rect x="729.0" y="739.0" width="1.3" height="1.3"/><rect x="725.0" y="739.0" width="1.3" height="1.3"/><rect x="721.0" y="739.0" width="1.3" height="1.3"/><rect x="717.0" y="739.0" width="1.3" height="1.3"/><rect x="713.0" y="739.0" width="1.3" height="1.3"/><rect x="709.0" y="739.0" width="1.3" height="1.3"/><rect x="705.0" y="739.0" width="1.3" height="1.3"/><rect x="701.0" y="739.0" width="1.3" height="1.3"/><rect x="697.0" y="739.0" width="1.3" height="1.3"/><rect x="693.0" y="739.0" width="1.3" height="1.3"/><rect x="689.0" y="739.0" width="1.3" height="1.3"/><rect x="685.0" y="739.0" width="1.3" height="1.3"/><rect x="681.0" y="739.0" width="1.3" height="1.3"/><rect x="677.0" y="739.0" width="1.3" height="1.3"/><rect x="673.0" y="739.0" width="1.3" height="1.3"/><rect x="669.0" y="739.0" width="1.3" height="1.3"/><rect x="665.0" y="739.0" width="1.3" height="1.3"/><rect x="661.0" y="739.0" width="1.3" height="1.3"/><rect x="657.0" y="739.0" width="1.3" height="1.3"/><rect x="653.0" y="739.0" width="1.3" height="1.3"/><rect x="649.0" y="739.0" width="1.3" height="1.3"/><rect x="646.1" y="736.2" width="1.3" height="1.3"/><rect x="643.3" y="733.4" width="1.3" height="1.3"/><rect x="640.4" y="730.5" width="1.3" height="1.3"/></g>
<g fill="#1a1a1a" fill-opacity="0.28"><rect x="350.9" y="298.7" width="1.3" height="1.3"/><rect x="354.9" y="298.7" width="1.3" height="1.3"/><rect x="358.9" y="298.7" width="1.3" height="1.3"/><rect x="362.9" y="298.7" width="1.3" height="1.3"/><rect x="366.9" y="298.7" width="1.3" height="1.3"/><rect x="370.9" y="298.7" width="1.3" height="1.3"/><rect x="374.9" y="298.7" width="1.3" height="1.3"/><rect x="378.9" y="298.7" width="1.3" height="1.3"/><rect x="382.9" y="298.7" width="1.3" height="1.3"/><rect x="386.9" y="298.7" width="1.3" height="1.3"/><rect x="390.9" y="298.7" width="1.3" height="1.3"/><rect x="394.9" y="298.7" width="1.3" height="1.3"/><rect x="398.9" y="298.7" width="1.3" height="1.3"/><rect x="402.9" y="298.7" width="1.3" height="1.3"/><rect x="406.9" y="298.7" width="1.3" height="1.3"/><rect x="410.9" y="298.7" width="1.3" height="1.3"/><rect x="414.9" y="298.7" width="1.3" height="1.3"/><rect x="418.9" y="298.7" width="1.3" height="1.3"/><rect x="422.9" y="298.7" width="1.3" height="1.3"/><rect x="426.9" y="298.7" width="1.3" height="1.3"/><rect x="430.9" y="298.7" width="1.3" height="1.3"/><rect x="434.9" y="298.7" width="1.3" height="1.3"/><rect x="438.9" y="298.7" width="1.3" height="1.3"/><rect x="442.9" y="298.7" width="1.3" height="1.3"/><rect x="298.9" y="459.2" width="1.3" height="1.3"/><rect x="302.9" y="459.2" width="1.3" height="1.3"/><rect x="306.9" y="459.2" width="1.3" height="1.3"/><rect x="310.9" y="459.2" width="1.3" height="1.3"/><rect x="314.9" y="459.2" width="1.3" height="1.3"/><rect x="318.9" y="459.2" width="1.3" height="1.3"/><rect x="322.9" y="459.2" width="1.3" height="1.3"/><rect x="326.9" y="459.2" width="1.3" height="1.3"/><rect x="330.9" y="459.2" width="1.3" height="1.3"/><rect x="334.9" y="459.2" width="1.3" height="1.3"/><rect x="338.9" y="459.2" width="1.3" height="1.3"/><rect x="342.9" y="459.2" width="1.3" height="1.3"/><rect x="346.9" y="459.2" width="1.3" height="1.3"/><rect x="350.9" y="459.2" width="1.3" height="1.3"/><rect x="354.9" y="459.2" width="1.3" height="1.3"/><rect x="358.9" y="459.2" width="1.3" height="1.3"/><rect x="318.9" y="567.6" width="1.3" height="1.3"/><rect x="322.9" y="567.6" width="1.3" height="1.3"/><rect x="326.9" y="567.6" width="1.3" height="1.3"/><rect x="330.9" y="567.6" width="1.3" height="1.3"/><rect x="334.9" y="567.6" width="1.3" height="1.3"/><rect x="338.9" y="567.6" width="1.3" height="1.3"/><rect x="342.9" y="567.6" width="1.3" height="1.3"/><rect x="346.9" y="567.6" width="1.3" height="1.3"/><rect x="350.9" y="567.6" width="1.3" height="1.3"/><rect x="354.9" y="567.6" width="1.3" height="1.3"/><rect x="358.9" y="567.6" width="1.3" height="1.3"/><rect x="362.9" y="567.6" width="1.3" height="1.3"/><rect x="366.9" y="567.6" width="1.3" height="1.3"/><rect x="370.9" y="567.6" width="1.3" height="1.3"/><rect x="374.9" y="567.6" width="1.3" height="1.3"/><rect x="378.9" y="567.6" width="1.3" height="1.3"/><rect x="382.9" y="567.6" width="1.3" height="1.3"/><rect x="346.9" y="619.4" width="1.3" height="1.3"/><rect x="350.9" y="619.4" width="1.3" height="1.3"/><rect x="354.9" y="619.4" width="1.3" height="1.3"/><rect x="358.9" y="619.4" width="1.3" height="1.3"/><rect x="362.9" y="619.4" width="1.3" height="1.3"/><rect x="366.9" y="619.4" width="1.3" height="1.3"/><rect x="370.9" y="619.4" width="1.3" height="1.3"/><rect x="374.9" y="619.4" width="1.3" height="1.3"/><rect x="378.9" y="619.4" width="1.3" height="1.3"/><rect x="382.9" y="619.4" width="1.3" height="1.3"/><rect x="386.9" y="619.4" width="1.3" height="1.3"/><rect x="390.9" y="619.4" width="1.3" height="1.3"/><rect x="394.9" y="619.4" width="1.3" height="1.3"/><rect x="398.9" y="619.4" width="1.3" height="1.3"/><rect x="402.9" y="619.4" width="1.3" height="1.3"/><rect x="406.9" y="619.4" width="1.3" height="1.3"/><rect x="410.9" y="619.4" width="1.3" height="1.3"/><rect x="414.9" y="619.4" width="1.3" height="1.3"/><rect x="418.9" y="619.4" width="1.3" height="1.3"/><rect x="422.9" y="619.4" width="1.3" height="1.3"/><rect x="426.9" y="619.4" width="1.3" height="1.3"/><rect x="374.9" y="655.4" width="1.3" height="1.3"/><rect x="378.9" y="655.4" width="1.3" height="1.3"/><rect x="382.9" y="655.4" width="1.3" height="1.3"/><rect x="386.9" y="655.4" width="1.3" height="1.3"/><rect x="390.9" y="655.4" width="1.3" height="1.3"/><rect x="394.9" y="655.4" width="1.3" height="1.3"/><rect x="398.9" y="655.4" width="1.3" height="1.3"/><rect x="402.9" y="655.4" width="1.3" height="1.3"/><rect x="406.9" y="655.4" width="1.3" height="1.3"/><rect x="410.9" y="655.4" width="1.3" height="1.3"/><rect x="414.9" y="655.4" width="1.3" height="1.3"/><rect x="418.9" y="655.4" width="1.3" height="1.3"/><rect x="422.9" y="655.4" width="1.3" height="1.3"/><rect x="426.9" y="655.4" width="1.3" height="1.3"/><rect x="430.9" y="655.4" width="1.3" height="1.3"/><rect x="434.9" y="655.4" width="1.3" height="1.3"/><rect x="438.9" y="655.4" width="1.3" height="1.3"/><rect x="442.9" y="655.4" width="1.3" height="1.3"/><rect x="446.9" y="655.4" width="1.3" height="1.3"/><rect x="450.9" y="655.4" width="1.3" height="1.3"/><rect x="454.9" y="655.4" width="1.3" height="1.3"/><rect x="458.9" y="655.4" width="1.3" height="1.3"/><rect x="462.9" y="655.4" width="1.3" height="1.3"/><rect x="466.9" y="655.4" width="1.3" height="1.3"/><rect x="470.9" y="655.4" width="1.3" height="1.3"/><rect x="474.9" y="655.4" width="1.3" height="1.3"/><rect x="478.9" y="655.4" width="1.3" height="1.3"/><rect x="482.9" y="655.4" width="1.3" height="1.3"/><rect x="486.9" y="655.4" width="1.3" height="1.3"/><rect x="490.9" y="655.4" width="1.3" height="1.3"/><rect x="414.9" y="690.2" width="1.3" height="1.3"/><rect x="418.9" y="690.2" width="1.3" height="1.3"/><rect x="422.9" y="690.2" width="1.3" height="1.3"/><rect x="426.9" y="690.2" width="1.3" height="1.3"/><rect x="430.9" y="690.2" width="1.3" height="1.3"/><rect x="434.9" y="690.2" width="1.3" height="1.3"/><rect x="438.9" y="690.2" width="1.3" height="1.3"/><rect x="442.9" y="690.2" width="1.3" height="1.3"/><rect x="446.9" y="690.2" width="1.3" height="1.3"/><rect x="450.9" y="690.2" width="1.3" height="1.3"/><rect x="454.9" y="690.2" width="1.3" height="1.3"/><rect x="458.9" y="690.2" width="1.3" height="1.3"/><rect x="462.9" y="690.2" width="1.3" height="1.3"/><rect x="466.9" y="690.2" width="1.3" height="1.3"/><rect x="470.9" y="690.2" width="1.3" height="1.3"/><rect x="474.9" y="690.2" width="1.3" height="1.3"/><rect x="478.9" y="690.2" width="1.3" height="1.3"/><rect x="482.9" y="690.2" width="1.3" height="1.3"/><rect x="486.9" y="690.2" width="1.3" height="1.3"/><rect x="490.9" y="690.2" width="1.3" height="1.3"/><rect x="494.9" y="690.2" width="1.3" height="1.3"/><rect x="498.9" y="690.2" width="1.3" height="1.3"/><rect x="502.9" y="690.2" width="1.3" height="1.3"/><rect x="506.9" y="690.2" width="1.3" height="1.3"/><rect x="510.9" y="690.2" width="1.3" height="1.3"/><rect x="514.9" y="690.2" width="1.3" height="1.3"/><rect x="518.9" y="690.2" width="1.3" height="1.3"/><rect x="521.8" y="687.7" width="1.3" height="1.3"/><rect x="524.6" y="684.9" width="1.3" height="1.3"/><rect x="527.5" y="682.0" width="1.3" height="1.3"/><rect x="530.3" y="679.2" width="1.3" height="1.3"/><rect x="533.1" y="676.4" width="1.3" height="1.3"/><rect x="535.9" y="673.6" width="1.3" height="1.3"/><rect x="490.9" y="726.1" width="1.3" height="1.3"/><rect x="494.9" y="726.1" width="1.3" height="1.3"/><rect x="498.9" y="726.1" width="1.3" height="1.3"/><rect x="502.9" y="726.1" width="1.3" height="1.3"/><rect x="506.9" y="726.1" width="1.3" height="1.3"/><rect x="510.3" y="724.9" width="1.3" height="1.3"/><rect x="513.2" y="722.0" width="1.3" height="1.3"/><rect x="516.0" y="719.2" width="1.3" height="1.3"/><rect x="518.8" y="716.4" width="1.3" height="1.3"/><rect x="521.6" y="713.6" width="1.3" height="1.3"/><rect x="524.5" y="710.7" width="1.3" height="1.3"/><rect x="527.3" y="707.9" width="1.3" height="1.3"/><rect x="530.1" y="705.1" width="1.3" height="1.3"/><rect x="533.0" y="702.2" width="1.3" height="1.3"/><rect x="535.8" y="699.4" width="1.3" height="1.3"/><rect x="538.6" y="696.6" width="1.3" height="1.3"/><rect x="541.4" y="693.8" width="1.3" height="1.3"/><rect x="544.3" y="690.9" width="1.3" height="1.3"/><rect x="547.1" y="688.1" width="1.3" height="1.3"/><rect x="549.9" y="685.3" width="1.3" height="1.3"/><rect x="552.7" y="682.5" width="1.3" height="1.3"/><rect x="555.6" y="679.6" width="1.3" height="1.3"/><rect x="558.4" y="676.8" width="1.3" height="1.3"/><rect x="789.0" y="298.4" width="1.3" height="1.3"/><rect x="785.0" y="298.4" width="1.3" height="1.3"/><rect x="781.0" y="298.4" width="1.3" height="1.3"/><rect x="777.0" y="298.4" width="1.3" height="1.3"/><rect x="773.0" y="298.4" width="1.3" height="1.3"/><rect x="769.0" y="298.4" width="1.3" height="1.3"/><rect x="765.0" y="298.4" width="1.3" height="1.3"/><rect x="761.0" y="298.4" width="1.3" height="1.3"/><rect x="757.0" y="298.4" width="1.3" height="1.3"/><rect x="753.0" y="298.4" width="1.3" height="1.3"/><rect x="749.0" y="298.4" width="1.3" height="1.3"/><rect x="745.0" y="298.4" width="1.3" height="1.3"/><rect x="741.0" y="298.4" width="1.3" height="1.3"/><rect x="737.0" y="298.4" width="1.3" height="1.3"/><rect x="733.0" y="298.4" width="1.3" height="1.3"/><rect x="729.0" y="298.4" width="1.3" height="1.3"/><rect x="725.0" y="298.4" width="1.3" height="1.3"/><rect x="721.0" y="298.4" width="1.3" height="1.3"/><rect x="717.0" y="298.4" width="1.3" height="1.3"/><rect x="713.0" y="298.4" width="1.3" height="1.3"/><rect x="709.0" y="298.4" width="1.3" height="1.3"/><rect x="705.0" y="298.4" width="1.3" height="1.3"/><rect x="701.0" y="298.4" width="1.3" height="1.3"/><rect x="697.0" y="298.4" width="1.3" height="1.3"/><rect x="693.0" y="298.4" width="1.3" height="1.3"/><rect x="841.0" y="422.6" width="1.3" height="1.3"/><rect x="837.0" y="422.6" width="1.3" height="1.3"/><rect x="833.0" y="422.6" width="1.3" height="1.3"/><rect x="829.0" y="422.6" width="1.3" height="1.3"/><rect x="825.0" y="422.6" width="1.3" height="1.3"/><rect x="821.0" y="422.6" width="1.3" height="1.3"/><rect x="817.0" y="422.6" width="1.3" height="1.3"/><rect x="813.0" y="422.6" width="1.3" height="1.3"/><rect x="809.0" y="422.6" width="1.3" height="1.3"/><rect x="805.0" y="422.6" width="1.3" height="1.3"/><rect x="801.0" y="422.6" width="1.3" height="1.3"/><rect x="797.0" y="422.6" width="1.3" height="1.3"/><rect x="793.0" y="422.6" width="1.3" height="1.3"/><rect x="789.0" y="422.6" width="1.3" height="1.3"/><rect x="785.0" y="422.6" width="1.3" height="1.3"/><rect x="781.0" y="422.6" width="1.3" height="1.3"/><rect x="777.0" y="422.6" width="1.3" height="1.3"/><rect x="837.0" y="512.8" width="1.3" height="1.3"/><rect x="833.0" y="512.8" width="1.3" height="1.3"/><rect x="829.0" y="512.8" width="1.3" height="1.3"/><rect x="825.0" y="512.8" width="1.3" height="1.3"/><rect x="821.0" y="512.8" width="1.3" height="1.3"/><rect x="817.0" y="512.8" width="1.3" height="1.3"/><rect x="813.0" y="512.8" width="1.3" height="1.3"/><rect x="809.0" y="512.8" width="1.3" height="1.3"/><rect x="805.0" y="512.8" width="1.3" height="1.3"/><rect x="801.0" y="512.8" width="1.3" height="1.3"/><rect x="797.0" y="512.8" width="1.3" height="1.3"/><rect x="793.0" y="512.8" width="1.3" height="1.3"/><rect x="789.0" y="512.8" width="1.3" height="1.3"/><rect x="785.0" y="512.8" width="1.3" height="1.3"/><rect x="781.0" y="512.8" width="1.3" height="1.3"/><rect x="777.0" y="512.8" width="1.3" height="1.3"/><rect x="821.0" y="569.6" width="1.3" height="1.3"/><rect x="817.0" y="569.6" width="1.3" height="1.3"/><rect x="813.0" y="569.6" width="1.3" height="1.3"/><rect x="809.0" y="569.6" width="1.3" height="1.3"/><rect x="805.0" y="569.6" width="1.3" height="1.3"/><rect x="801.0" y="569.6" width="1.3" height="1.3"/><rect x="797.0" y="569.6" width="1.3" height="1.3"/><rect x="793.0" y="569.6" width="1.3" height="1.3"/><rect x="789.0" y="569.6" width="1.3" height="1.3"/><rect x="785.0" y="569.6" width="1.3" height="1.3"/><rect x="781.0" y="569.6" width="1.3" height="1.3"/><rect x="777.0" y="569.6" width="1.3" height="1.3"/><rect x="773.0" y="569.6" width="1.3" height="1.3"/><rect x="769.0" y="569.6" width="1.3" height="1.3"/><rect x="765.0" y="569.6" width="1.3" height="1.3"/><rect x="761.0" y="569.6" width="1.3" height="1.3"/><rect x="757.0" y="569.6" width="1.3" height="1.3"/><rect x="753.0" y="569.6" width="1.3" height="1.3"/><rect x="797.0" y="618.2" width="1.3" height="1.3"/><rect x="793.0" y="618.2" width="1.3" height="1.3"/><rect x="789.0" y="618.2" width="1.3" height="1.3"/><rect x="785.0" y="618.2" width="1.3" height="1.3"/><rect x="781.0" y="618.2" width="1.3" height="1.3"/><rect x="777.0" y="618.2" width="1.3" height="1.3"/><rect x="773.0" y="618.2" width="1.3" height="1.3"/><rect x="769.0" y="618.2" width="1.3" height="1.3"/><rect x="765.0" y="618.2" width="1.3" height="1.3"/><rect x="761.0" y="618.2" width="1.3" height="1.3"/><rect x="757.0" y="618.2" width="1.3" height="1.3"/><rect x="753.0" y="618.2" width="1.3" height="1.3"/><rect x="749.0" y="618.2" width="1.3" height="1.3"/><rect x="745.0" y="618.2" width="1.3" height="1.3"/><rect x="741.0" y="618.2" width="1.3" height="1.3"/><rect x="737.0" y="618.2" width="1.3" height="1.3"/><rect x="733.0" y="618.2" width="1.3" height="1.3"/><rect x="729.0" y="618.2" width="1.3" height="1.3"/><rect x="725.0" y="618.2" width="1.3" height="1.3"/><rect x="721.0" y="618.2" width="1.3" height="1.3"/><rect x="717.0" y="618.2" width="1.3" height="1.3"/><rect x="713.0" y="618.2" width="1.3" height="1.3"/><rect x="765.0" y="656.4" width="1.3" height="1.3"/><rect x="761.0" y="656.4" width="1.3" height="1.3"/><rect x="757.0" y="656.4" width="1.3" height="1.3"/><rect x="753.0" y="656.4" width="1.3" height="1.3"/><rect x="749.0" y="656.4" width="1.3" height="1.3"/><rect x="745.0" y="656.4" width="1.3" height="1.3"/><rect x="741.0" y="656.4" width="1.3" height="1.3"/><rect x="737.0" y="656.4" width="1.3" height="1.3"/><rect x="733.0" y="656.4" width="1.3" height="1.3"/><rect x="729.0" y="656.4" width="1.3" height="1.3"/><rect x="725.0" y="656.4" width="1.3" height="1.3"/><rect x="721.0" y="656.4" width="1.3" height="1.3"/><rect x="717.0" y="656.4" width="1.3" height="1.3"/><rect x="713.0" y="656.4" width="1.3" height="1.3"/><rect x="709.0" y="656.4" width="1.3" height="1.3"/><rect x="705.0" y="656.4" width="1.3" height="1.3"/><rect x="701.0" y="656.4" width="1.3" height="1.3"/><rect x="697.0" y="656.4" width="1.3" height="1.3"/><rect x="693.0" y="656.4" width="1.3" height="1.3"/><rect x="689.0" y="656.4" width="1.3" height="1.3"/><rect x="685.0" y="656.4" width="1.3" height="1.3"/><rect x="681.0" y="656.4" width="1.3" height="1.3"/><rect x="677.0" y="656.4" width="1.3" height="1.3"/><rect x="673.0" y="656.4" width="1.3" height="1.3"/><rect x="669.0" y="656.4" width="1.3" height="1.3"/><rect x="665.0" y="656.4" width="1.3" height="1.3"/><rect x="721.0" y="693.2" width="1.3" height="1.3"/><rect x="717.0" y="693.2" width="1.3" height="1.3"/><rect x="713.0" y="693.2" width="1.3" height="1.3"/><rect x="709.0" y="693.2" width="1.3" height="1.3"/><rect x="705.0" y="693.2" width="1.3" height="1.3"/><rect x="701.0" y="693.2" width="1.3" height="1.3"/><rect x="697.0" y="693.2" width="1.3" height="1.3"/><rect x="693.0" y="693.2" width="1.3" height="1.3"/><rect x="689.0" y="693.2" width="1.3" height="1.3"/><rect x="685.0" y="693.2" width="1.3" height="1.3"/><rect x="681.0" y="693.2" width="1.3" height="1.3"/><rect x="677.0" y="693.2" width="1.3" height="1.3"/><rect x="673.0" y="693.2" width="1.3" height="1.3"/><rect x="669.0" y="693.2" width="1.3" height="1.3"/><rect x="665.0" y="693.2" width="1.3" height="1.3"/><rect x="661.0" y="693.2" width="1.3" height="1.3"/><rect x="657.0" y="693.2" width="1.3" height="1.3"/><rect x="653.0" y="693.2" width="1.3" height="1.3"/><rect x="649.0" y="693.2" width="1.3" height="1.3"/><rect x="645.0" y="693.2" width="1.3" height="1.3"/><rect x="641.0" y="693.2" width="1.3" height="1.3"/><rect x="637.0" y="693.2" width="1.3" height="1.3"/><rect x="633.9" y="690.9" width="1.3" height="1.3"/><rect x="631.1" y="688.1" width="1.3" height="1.3"/><rect x="628.3" y="685.3" width="1.3" height="1.3"/><rect x="625.4" y="682.4" width="1.3" height="1.3"/><rect x="622.6" y="679.6" width="1.3" height="1.3"/><rect x="619.8" y="676.8" width="1.3" height="1.3"/><rect x="616.9" y="673.9" width="1.3" height="1.3"/><rect x="614.1" y="671.1" width="1.3" height="1.3"/><rect x="637.6" y="727.7" width="1.3" height="1.3"/><rect x="634.8" y="724.9" width="1.3" height="1.3"/><rect x="632.0" y="722.1" width="1.3" height="1.3"/><rect x="629.1" y="719.2" width="1.3" height="1.3"/><rect x="626.3" y="716.4" width="1.3" height="1.3"/><rect x="623.5" y="713.6" width="1.3" height="1.3"/><rect x="620.6" y="710.7" width="1.3" height="1.3"/><rect x="617.8" y="707.9" width="1.3" height="1.3"/><rect x="615.0" y="705.1" width="1.3" height="1.3"/><rect x="612.2" y="702.3" width="1.3" height="1.3"/><rect x="609.3" y="699.4" width="1.3" height="1.3"/><rect x="606.5" y="696.6" width="1.3" height="1.3"/><rect x="603.7" y="693.8" width="1.3" height="1.3"/><rect x="600.8" y="690.9" width="1.3" height="1.3"/><rect x="598.0" y="688.1" width="1.3" height="1.3"/><rect x="595.2" y="685.3" width="1.3" height="1.3"/><rect x="592.4" y="682.5" width="1.3" height="1.3"/><rect x="589.5" y="679.6" width="1.3" height="1.3"/><rect x="586.7" y="676.8" width="1.3" height="1.3"/></g>
<g fill="#262626"><circle cx="451.5" cy="298.9" r="5"/><circle cx="366.6" cy="459.6" r="5"/><circle cx="392.1" cy="567.8" r="5"/><circle cx="436.6" cy="619.8" r="5"/><circle cx="499.2" cy="655.8" r="5"/><circle cx="543.2" cy="667.6" r="5"/><circle cx="565.2" cy="671.3" r="5"/><circle cx="685.5" cy="298.9" r="5"/><circle cx="769.5" cy="423.2" r="5"/><circle cx="768.8" cy="513.4" r="5"/><circle cx="746.0" cy="570.2" r="5"/><circle cx="703.0" cy="618.8" r="5"/><circle cx="657.3" cy="656.9" r="5"/><circle cx="608.5" cy="665.5" r="5"/><circle cx="580.9" cy="671.0" r="5"/></g>
<g filter="url(#nf)"><text x="142.38" y="289.0" font-size="14" fill="#939393" textLength="32.17" lengthAdjust="spacingAndGlyphs">37.2%</text>
<text x="179.22" y="289.0" font-size="16.5" fill="#c0352d" font-weight="bold" textLength="31.35" lengthAdjust="spacingAndGlyphs">5.29</text>
<text x="112.68" y="305.5" font-size="16.5" fill="#262626" font-weight="bold" textLength="97.83" lengthAdjust="spacingAndGlyphs">Saudi Arabia</text>
<text x="140.97" y="445.0" font-size="14" fill="#939393" textLength="33.57" lengthAdjust="spacingAndGlyphs">22.8%</text>
<text x="178.68" y="445.0" font-size="16.5" fill="#c0352d" font-weight="bold" textLength="31.86" lengthAdjust="spacingAndGlyphs">3.24</text>
<text x="179.93" y="462.6" font-size="16.5" fill="#262626" font-weight="bold" textLength="31.66" lengthAdjust="spacingAndGlyphs">Iraq</text>
<text x="144.96" y="556.0" font-size="14" fill="#939393" textLength="29.60" lengthAdjust="spacingAndGlyphs">12.9%</text>
<text x="181.92" y="556.0" font-size="16.5" fill="#c0352d" font-weight="bold" textLength="29.67" lengthAdjust="spacingAndGlyphs">1.83</text>
<text x="181.28" y="572.6" font-size="16.5" fill="#262626" font-weight="bold" textLength="30.35" lengthAdjust="spacingAndGlyphs">UAE</text>
<text x="144.21" y="607.0" font-size="14" fill="#939393" textLength="30.34" lengthAdjust="spacingAndGlyphs">10.6%</text>
<text x="185.75" y="607.0" font-size="16.5" fill="#c0352d" font-weight="bold" textLength="24.82" lengthAdjust="spacingAndGlyphs">1.51</text>
<text x="179.93" y="624.0" font-size="16.5" fill="#262626" font-weight="bold" textLength="31.66" lengthAdjust="spacingAndGlyphs">Iran</text>
<text x="147.62" y="642.4" font-size="14" fill="#939393" textLength="26.96" lengthAdjust="spacingAndGlyphs">10.1%</text>
<text x="181.33" y="642.4" font-size="16.5" fill="#c0352d" font-weight="bold" textLength="30.30" lengthAdjust="spacingAndGlyphs">1.43</text>
<text x="157.33" y="659.5" font-size="16.5" fill="#262626" font-weight="bold" textLength="53.20" lengthAdjust="spacingAndGlyphs">Kuwait</text>
<text x="148.60" y="678.4" font-size="14" fill="#939393" textLength="26.49" lengthAdjust="spacingAndGlyphs">4.4%</text>
<text x="177.95" y="678.4" font-size="16.5" fill="#c0352d" font-weight="bold" textLength="33.61" lengthAdjust="spacingAndGlyphs">0.63</text>
<text x="167.36" y="695.5" font-size="16.5" fill="#262626" textLength="43.18" lengthAdjust="spacingAndGlyphs">Qatar</text>
<text x="151.48" y="715.5" font-size="14" fill="#939393" textLength="23.05" lengthAdjust="spacingAndGlyphs">1.9%</text>
<text x="178.45" y="715.5" font-size="16.5" fill="#c0352d" font-weight="bold" textLength="32.13" lengthAdjust="spacingAndGlyphs">0.28</text>
<text x="159.77" y="732.0" font-size="16.5" fill="#262626" font-weight="bold" textLength="51.76" lengthAdjust="spacingAndGlyphs">Others</text>
<text x="925.76" y="285.0" font-size="16.5" fill="#4563ad" font-weight="bold" textLength="34.29" lengthAdjust="spacingAndGlyphs">5.35</text>
<text x="968.69" y="285.0" font-size="14" fill="#939393" textLength="33.18" lengthAdjust="spacingAndGlyphs">37.7%</text>
<text x="926.36" y="302.0" font-size="16.5" fill="#262626" font-weight="bold" textLength="45.64" lengthAdjust="spacingAndGlyphs">China</text>
<text x="925.80" y="411.0" font-size="16.5" fill="#4563ad" font-weight="bold" textLength="32.16" lengthAdjust="spacingAndGlyphs">2.09</text>
<text x="968.66" y="411.0" font-size="14" fill="#939393" textLength="30.57" lengthAdjust="spacingAndGlyphs">14.7%</text>
<text x="926.33" y="428.2" font-size="16.5" fill="#262626" font-weight="bold" textLength="37.90" lengthAdjust="spacingAndGlyphs">India</text>
<text x="925.69" y="499.0" font-size="16.5" fill="#4563ad" font-weight="bold" textLength="18.92" lengthAdjust="spacingAndGlyphs">1.7</text>
<text x="968.66" y="499.0" font-size="14" fill="#939393" textLength="30.57" lengthAdjust="spacingAndGlyphs">12.0%</text>
<text x="926.36" y="516.0" font-size="16.5" fill="#262626" font-weight="bold" textLength="92.64" lengthAdjust="spacingAndGlyphs">South Korea</text>
<text x="925.69" y="557.8" font-size="16.5" fill="#4563ad" font-weight="bold" textLength="29.64" lengthAdjust="spacingAndGlyphs">1.55</text>
<text x="968.67" y="557.8" font-size="14" fill="#939393" textLength="31.06" lengthAdjust="spacingAndGlyphs">10.9%</text>
<text x="927.35" y="575.0" font-size="16.5" fill="#262626" font-weight="bold" textLength="49.22" lengthAdjust="spacingAndGlyphs">Japan</text>
<text x="925.79" y="604.0" font-size="16.5" fill="#4563ad" font-weight="bold" textLength="33.35" lengthAdjust="spacingAndGlyphs">0.53</text>
<text x="968.62" y="604.0" font-size="14" fill="#939393" textLength="27.42" lengthAdjust="spacingAndGlyphs">3.8%</text>
<text x="926.37" y="620.3" font-size="16.5" fill="#262626" font-weight="bold" textLength="53.69" lengthAdjust="spacingAndGlyphs">Europe</text>
<text x="925.74" y="642.4" font-size="16.5" fill="#4563ad" font-weight="bold" textLength="28.80" lengthAdjust="spacingAndGlyphs">1.98</text>
<text x="968.66" y="642.4" font-size="14" fill="#939393" textLength="30.57" lengthAdjust="spacingAndGlyphs">13.9%</text>
<text x="926.39" y="659.5" font-size="16.5" fill="#262626" font-weight="bold" textLength="163.32" lengthAdjust="spacingAndGlyphs">Other Asian countries</text>
<text x="925.76" y="683.2" font-size="16.5" fill="#4563ad" font-weight="bold" textLength="34.38" lengthAdjust="spacingAndGlyphs">0.36</text>
<text x="968.62" y="683.2" font-size="14" fill="#939393" textLength="27.42" lengthAdjust="spacingAndGlyphs">2.5%</text>
<text x="926.37" y="699.7" font-size="16.5" fill="#262626" font-weight="bold" textLength="101.47" lengthAdjust="spacingAndGlyphs">United States</text>
<text x="925.75" y="728.2" font-size="16.5" fill="#4563ad" font-weight="bold" textLength="33.99" lengthAdjust="spacingAndGlyphs">0.64</text>
<text x="969.68" y="728.2" font-size="14" fill="#939393" textLength="27.97" lengthAdjust="spacingAndGlyphs">4.5%</text>
<text x="926.37" y="745.3" font-size="16.5" fill="#262626" textLength="50.18" lengthAdjust="spacingAndGlyphs">Others</text>
<rect x="166.3" y="227.4" width="204.7" height="29.4" rx="14.7" fill="#c4372f"/>
<text x="178.47" y="247.6" font-size="16.4" fill="#fff" font-weight="bold" textLength="88.89" lengthAdjust="spacingAndGlyphs">EXPORTING</text>
<text x="271.38" y="247.6" font-size="16.4" fill="#fff" font-weight="bold" textLength="87.02" lengthAdjust="spacingAndGlyphs">COUNTRIES</text>
<rect x="767.6" y="227.4" width="205.3" height="29.4" rx="14.7" fill="#4565b1"/>
<text x="817.94" y="247.6" font-size="16.4" fill="#fff" font-weight="bold" textLength="104.62" lengthAdjust="spacingAndGlyphs">DESTINATION</text></g>
<circle cx="223.5" cy="299.7" r="8.4" fill="#6b9b34"/>
<g fill="#b9dc92" fill-opacity="0.92"><rect x="218.7" y="296.6" width="1.6" height="3"/><rect x="220.7" y="296.9" width="1.8" height="2.7"/><rect x="222.9" y="296.6" width="1.6" height="3"/><rect x="224.9" y="296.9" width="1.7" height="2.7"/><rect x="227" y="296.6" width="1.5" height="3"/><rect x="218.7" y="298.6" width="9.8" height="1" fill-opacity="0.6"/><rect x="220" y="302.1" width="6.6" height="0.9"/><rect x="226" y="302.1" width="1" height="1.6"/></g>
<g clip-path="url(#f2)"><rect x="214" y="448" width="20" height="6.6" fill="#cd3a40"/><rect x="214" y="454.6" width="20" height="6" fill="#f6f6ee"/><rect x="214" y="460.6" width="20" height="7" fill="#30323a"/><g fill="#7c9c3e"><rect x="216.5" y="457.3" width="6.2" height="1.4"/><rect x="218" y="456" width="1.2" height="2"/><rect x="220.6" y="455.6" width="1.2" height="2.4"/><rect x="224.7" y="457.3" width="5.6" height="1.4"/><rect x="226" y="455.8" width="1.2" height="2"/><rect x="228.4" y="455.6" width="1.2" height="2.4"/></g></g>
<g clip-path="url(#f3)"><rect x="214" y="559" width="20" height="6.3" fill="#5f9a2c"/><rect x="214" y="565.3" width="20" height="6" fill="#f7f7f5"/><rect x="214" y="571.3" width="20" height="7" fill="#383a40"/><rect x="214" y="559" width="6.5" height="20" fill="#e64a5a"/></g>
<g clip-path="url(#f4)"><rect x="214" y="610" width="20" height="6" fill="#6db33c"/><rect x="214" y="616" width="20" height="6.1" fill="#fbfbf9"/><rect x="214" y="622.1" width="20" height="7" fill="#e8465a"/><circle cx="223.5" cy="619" r="1.9" fill="#e07a90"/></g>
<g clip-path="url(#f5)"><rect x="214" y="644" width="20" height="6.1" fill="#5f9a2c"/><rect x="214" y="650.1" width="20" height="6" fill="#f7f7f5"/><rect x="214" y="656.1" width="20" height="7" fill="#e4475e"/><polygon points="214,643 216.6,643 220.8,650.1 220.8,656.1 216.6,664 214,664" fill="#2e3440"/></g>
<g clip-path="url(#f6)"><rect x="214" y="678" width="8" height="19" fill="#fbfbfb"/><polygon points="221.3,678.50 219.7,679.48 221.3,680.46 219.7,681.43 221.3,682.41 219.7,683.39 221.3,684.37 219.7,685.34 221.3,686.32 219.7,687.30 221.3,688.28 219.7,689.26 221.3,690.23 219.7,691.21 221.3,692.19 219.7,693.17 221.3,694.14 219.7,695.12 221.3,696.10 233,696.1 233,678.5" fill="#b8457b"/></g>
<g clip-path="url(#f7)"><circle cx="223.5" cy="726.1" r="8.6" fill="#0a87a6"/><polygon points="220.98,721.02 222.11,719.71 223.80,719.07 226.05,718.95 228.31,719.71 230.00,720.83 231.32,722.34 231.99,724.03 232.22,725.72 231.77,727.04 230.94,727.71 229.62,728.09 228.31,727.79 227.48,727.34 226.80,727.98 226.24,729.11 225.86,730.80 225.30,732.30 224.55,733.62 223.72,734.48 222.97,733.99 222.52,732.68 222.29,730.98 221.73,730.05 220.60,729.67 219.47,729.11 218.91,727.98 219.29,726.85 220.04,725.91 220.98,725.23 221.17,724.22 220.60,723.28 220.23,722.15" fill="#f6c63a"/></g>
<g clip-path="url(#f8)"><circle cx="913.5" cy="740.1" r="8.6" fill="#0a87a6"/><polygon points="910.98,734.02 912.11,732.71 913.80,732.07 916.05,731.95 918.31,732.71 920.00,733.83 921.32,735.34 921.99,737.03 922.22,738.72 921.77,740.04 920.94,740.71 919.62,741.09 918.31,740.79 917.48,740.34 916.80,740.98 916.24,742.11 915.86,743.80 915.30,745.30 914.55,746.62 913.72,747.48 912.97,746.99 912.52,745.68 912.29,743.98 911.73,743.05 910.60,742.67 909.47,742.11 908.91,740.98 909.29,739.85 910.04,738.91 910.98,738.23 911.17,737.22 910.60,736.28 910.23,735.15" fill="#f6c63a"/></g>
<circle cx="913.5" cy="297.8" r="8.4" fill="url(#gch)"/>
<polygon points="910.60,292.80 911.27,294.58 913.17,294.67 911.68,295.85 912.19,297.68 910.60,296.63 909.01,297.68 909.52,295.85 908.03,294.67 909.93,294.58" fill="#fdc937"/>
<circle cx="914.4" cy="292.4" r="0.65" fill="#f59a45"/>
<circle cx="916.2" cy="294.3" r="0.65" fill="#f59a45"/>
<circle cx="916.2" cy="296.9" r="0.65" fill="#f59a45"/>
<circle cx="914.6" cy="298.9" r="0.65" fill="#f59a45"/>
<g clip-path="url(#f9)"><rect x="904" y="414" width="20" height="6.8" fill="#f1ad1c"/><rect x="904" y="420.8" width="20" height="5.8" fill="#fbfbf6"/><rect x="904" y="426.6" width="20" height="7" fill="#7dc24c"/><circle cx="913.4" cy="423.7" r="2.2" fill="#6f8cc6"/><circle cx="913.4" cy="423.7" r="0.9" fill="#3a5aa0"/></g>
<circle cx="913.3" cy="511.7" r="8.6" fill="#f6f6f6"/>
<g clip-path="url(#f10)"><circle cx="913.4" cy="511.5" r="3.6" fill="#3b73b3"/><path d="M909.8,511.9A3.6,3.6 0 0 1 917,511.9Z" fill="#dd4454"/>
<rect x="906.5999999999999" y="506.2" width="3.4" height="2.4" fill="#707070" transform="rotate(-45 908.3 507.4)"/>
<rect x="917.0" y="506.2" width="3.4" height="2.4" fill="#707070" transform="rotate(45 918.7 507.4)"/>
<rect x="906.5999999999999" y="514.6999999999999" width="3.4" height="2.4" fill="#707070" transform="rotate(45 908.3 515.9)"/>
<rect x="917.0" y="514.6999999999999" width="3.4" height="2.4" fill="#707070" transform="rotate(-45 918.7 515.9)"/>
</g>
<circle cx="913.6" cy="570.4" r="8.6" fill="#f7f7f7"/><circle cx="913.6" cy="570.4" r="3.6" fill="#e24858"/>
<circle cx="913.6" cy="617.3" r="8.5" fill="#2b5a9b"/><circle cx="913.6" cy="617.3" r="3.6" fill="#2652a2"/>
<g fill="#c9d6bc"><circle cx="918.50" cy="617.30" r="0.6"/><circle cx="917.84" cy="619.75" r="0.6"/><circle cx="916.05" cy="621.54" r="0.6"/><circle cx="913.60" cy="622.20" r="0.6"/><circle cx="911.15" cy="621.54" r="0.6"/><circle cx="909.36" cy="619.75" r="0.6"/><circle cx="908.70" cy="617.30" r="0.6"/><circle cx="909.36" cy="614.85" r="0.6"/><circle cx="911.15" cy="613.06" r="0.6"/><circle cx="913.60" cy="612.40" r="0.6"/><circle cx="916.05" cy="613.06" r="0.6"/><circle cx="917.84" cy="614.85" r="0.6"/></g>
<g clip-path="url(#f11)"><circle cx="913.4" cy="655.0" r="8.6" fill="#0a87a6"/><polygon points="904.40,652.03 905.71,648.65 908.91,646.02 913.05,645.64 915.60,647.14 914.62,649.40 913.80,651.28 912.48,652.41 911.54,653.53 912.86,655.11 911.17,654.74 909.74,652.86 907.41,652.86 905.90,652.48" fill="#f7c53a"/><polygon points="912.29,657.67 914.55,656.54 916.05,657.67 915.90,659.55 913.80,659.81 912.22,658.98" fill="#d3dc6c"/></g>
<g clip-path="url(#f12)"><rect x="904" y="684" width="20" height="19" fill="#fbe3e3"/><rect x="904" y="684.90" width="20" height="1.3" fill="#e65c6a"/><rect x="904" y="687.45" width="20" height="1.3" fill="#e65c6a"/><rect x="904" y="690.00" width="20" height="1.3" fill="#e65c6a"/><rect x="904" y="692.55" width="20" height="1.3" fill="#e65c6a"/><rect x="904" y="695.10" width="20" height="1.3" fill="#e65c6a"/><rect x="904" y="697.65" width="20" height="1.3" fill="#e65c6a"/><rect x="904" y="700.20" width="20" height="1.3" fill="#e65c6a"/><rect x="904" y="684" width="9.9" height="9.7" fill="#3f7cc4"/><rect x="905.9" y="685.9" width="0.8" height="0.8" fill="#a9d0f2"/><rect x="908.2" y="685.9" width="0.8" height="0.8" fill="#a9d0f2"/><rect x="910.5" y="685.9" width="0.8" height="0.8" fill="#a9d0f2"/><rect x="912.6" y="685.9" width="0.8" height="0.8" fill="#a9d0f2"/><rect x="905.9" y="688.2" width="0.8" height="0.8" fill="#a9d0f2"/><rect x="908.2" y="688.2" width="0.8" height="0.8" fill="#a9d0f2"/><rect x="910.5" y="688.2" width="0.8" height="0.8" fill="#a9d0f2"/><rect x="912.6" y="688.2" width="0.8" height="0.8" fill="#a9d0f2"/><rect x="905.9" y="690.5" width="0.8" height="0.8" fill="#a9d0f2"/><rect x="908.2" y="690.5" width="0.8" height="0.8" fill="#a9d0f2"/><rect x="910.5" y="690.5" width="0.8" height="0.8" fill="#a9d0f2"/><rect x="912.6" y="690.5" width="0.8" height="0.8" fill="#a9d0f2"/></g>
<g filter="url(#nf)"><text stroke="#131313" stroke-width="1.8" stroke-linejoin="round" x="48.41" y="110.5" font-size="55.6" fill="#131313" font-weight="bold" textLength="74.78" lengthAdjust="spacingAndGlyphs">Oil</text>
<text stroke="#131313" stroke-width="1.8" stroke-linejoin="round" x="134.30" y="110.5" font-size="55.6" fill="#131313" font-weight="bold" textLength="152.73" lengthAdjust="spacingAndGlyphs">trade</text>
<text stroke="#131313" stroke-width="1.8" stroke-linejoin="round" x="298.30" y="110.5" font-size="55.6" fill="#131313" font-weight="bold" textLength="229.76" lengthAdjust="spacingAndGlyphs">through</text>
<text stroke="#131313" stroke-width="1.8" stroke-linejoin="round" x="537.30" y="110.5" font-size="55.6" fill="#131313" font-weight="bold" textLength="95.74" lengthAdjust="spacingAndGlyphs">the</text>
<text stroke="#131313" stroke-width="1.8" stroke-linejoin="round" x="642.50" y="110.5" font-size="55.6" fill="#131313" font-weight="bold" textLength="151.50" lengthAdjust="spacingAndGlyphs">Strait</text>
<text stroke="#131313" stroke-width="1.8" stroke-linejoin="round" x="805.70" y="110.5" font-size="55.6" fill="#131313" font-weight="bold" textLength="52.84" lengthAdjust="spacingAndGlyphs">of</text>
<text stroke="#131313" stroke-width="1.8" stroke-linejoin="round" x="870.95" y="110.5" font-size="55.6" fill="#131313" font-weight="bold" textLength="222.58" lengthAdjust="spacingAndGlyphs">Hormuz</text>
<text x="316.24" y="156.8" font-size="20.6" fill="#2e2e2e" textLength="68.80" lengthAdjust="spacingAndGlyphs">(Crude</text>
<text x="390.49" y="156.8" font-size="20.6" fill="#2e2e2e" textLength="22.46" lengthAdjust="spacingAndGlyphs">oil</text>
<text x="417.23" y="156.8" font-size="20.6" fill="#2e2e2e" textLength="38.89" lengthAdjust="spacingAndGlyphs">and</text>
<text x="461.66" y="156.8" font-size="20.6" fill="#2e2e2e" textLength="123.17" lengthAdjust="spacingAndGlyphs">condensate,</text>
<text x="588.70" y="156.8" font-size="20.6" fill="#2e2e2e" textLength="65.44" lengthAdjust="spacingAndGlyphs">million</text>
<text x="658.45" y="156.8" font-size="20.6" fill="#2e2e2e" textLength="67.58" lengthAdjust="spacingAndGlyphs">barrels</text>
<text x="730.31" y="156.8" font-size="20.6" fill="#2e2e2e" textLength="30.56" lengthAdjust="spacingAndGlyphs">per</text>
<text x="765.97" y="156.8" font-size="20.6" fill="#2e2e2e" textLength="59.71" lengthAdjust="spacingAndGlyphs">day*)</text>
<text x="47.31" y="765.2" font-size="12.2" fill="#1a1a1a" font-weight="bold" textLength="53.57" lengthAdjust="spacingAndGlyphs">Sources:</text>
<text x="102.86" y="765.2" font-size="12.2" fill="#2a2a2a" textLength="21.72" lengthAdjust="spacingAndGlyphs">U.S.</text>
<text x="127.40" y="765.2" font-size="12.2" fill="#2a2a2a" textLength="40.00" lengthAdjust="spacingAndGlyphs">Energy</text>
<text x="171.20" y="765.2" font-size="12.2" fill="#2a2a2a" textLength="69.83" lengthAdjust="spacingAndGlyphs">Information</text>
<text x="245.00" y="765.2" font-size="12.2" fill="#2a2a2a" textLength="86.74" lengthAdjust="spacingAndGlyphs">Administration</text>
<text x="333.78" y="765.2" font-size="12.2" fill="#2a2a2a" textLength="29.04" lengthAdjust="spacingAndGlyphs">(EIA)</text>
<text x="366.28" y="765.2" font-size="12.2" fill="#2a2a2a" textLength="47.89" lengthAdjust="spacingAndGlyphs">analysis</text>
<text x="417.93" y="765.2" font-size="12.2" fill="#2a2a2a" textLength="37.15" lengthAdjust="spacingAndGlyphs">based</text>
<text x="459.84" y="765.2" font-size="12.2" fill="#2a2a2a" textLength="15.24" lengthAdjust="spacingAndGlyphs">on</text>
<text x="478.19" y="765.2" font-size="12.2" fill="#2a2a2a" textLength="45.81" lengthAdjust="spacingAndGlyphs">Vortexa</text>
<text x="527.91" y="765.2" font-size="12.2" fill="#2a2a2a" textLength="37.09" lengthAdjust="spacingAndGlyphs">tanker</text>
<text x="568.63" y="765.2" font-size="12.2" fill="#2a2a2a" textLength="52.88" lengthAdjust="spacingAndGlyphs">tracking,</text>
<text x="622.51" y="765.2" font-size="12.2" fill="#2a2a2a" textLength="70.62" lengthAdjust="spacingAndGlyphs">Bloomberg,</text>
<text x="696.00" y="765.2" font-size="12.2" fill="#2a2a2a" textLength="11.11" lengthAdjust="spacingAndGlyphs">Al</text>
<text x="709.33" y="765.2" font-size="12.2" fill="#2a2a2a" textLength="43.37" lengthAdjust="spacingAndGlyphs">Majalla</text>
<text stroke="#1f1f1f" stroke-width="0.6" x="993.45" y="765.2" font-size="12.4" fill="#1f1f1f" textLength="33.55" lengthAdjust="spacingAndGlyphs">*Data</text>
<text stroke="#1f1f1f" stroke-width="0.6" x="1031.42" y="765.2" font-size="12.4" fill="#1f1f1f" textLength="14.75" lengthAdjust="spacingAndGlyphs">for</text>
<text stroke="#1f1f1f" stroke-width="0.6" x="1050.94" y="765.2" font-size="12.4" fill="#1f1f1f" textLength="13.11" lengthAdjust="spacingAndGlyphs">Q1</text>
<text stroke="#1f1f1f" stroke-width="0.6" x="1067.54" y="765.2" font-size="12.4" fill="#1f1f1f" textLength="28.62" lengthAdjust="spacingAndGlyphs">2025</text></g>
</svg>
</body></html>
